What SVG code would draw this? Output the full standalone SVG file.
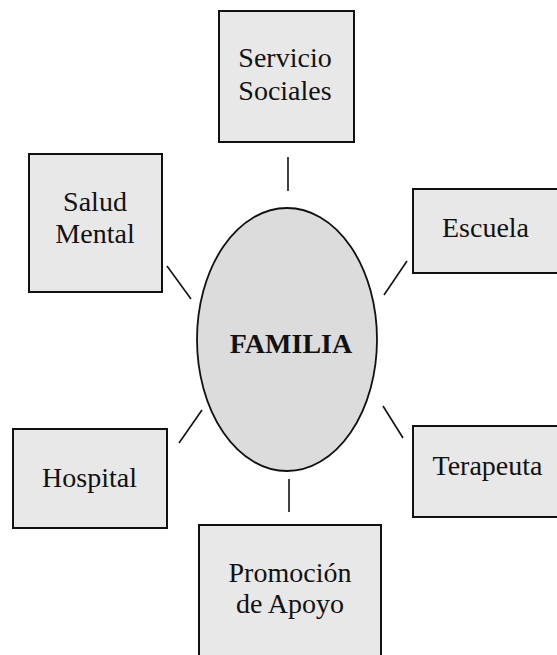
<svg xmlns="http://www.w3.org/2000/svg" width="557" height="655" viewBox="0 0 557 655">
<style>
.box{fill:#e8e8e8;stroke:#111;stroke-width:2}
.t{font-family:"Liberation Serif","Times New Roman",serif;font-size:28px;fill:#111;text-anchor:middle}
.b{font-weight:bold}
.c{stroke:#111;stroke-width:1.6;fill:none}
</style>
<rect width="557" height="655" fill="#fff"/>
<g id="connectors">
<line class="c" x1="288" y1="157" x2="288" y2="191"/>
<line class="c" x1="167" y1="266" x2="191" y2="299"/>
<line class="c" x1="407" y1="261" x2="384" y2="295"/>
<line class="c" x1="202" y1="410" x2="179" y2="443"/>
<line class="c" x1="383" y1="406" x2="403" y2="438"/>
<line class="c" x1="289" y1="479" x2="289" y2="512"/>
</g>
<g id="familia">
<ellipse cx="287" cy="339.5" rx="90" ry="131.5" fill="#dcdcdc" stroke="#111" stroke-width="1.8"/>
<text class="t b" x="291" y="353">FAMILIA</text>
</g>
<g id="servicio">
<rect class="box" x="219" y="11" width="135" height="131"/>
<text class="t" x="285" y="67">Servicio</text>
<text class="t" x="285" y="100">Sociales</text>
</g>
<g id="salud">
<rect class="box" x="29" y="154" width="133" height="138" stroke-width="2.5"/>
<text class="t" x="95" y="211">Salud</text>
<text class="t" x="95" y="243">Mental</text>
</g>
<g id="escuela">
<rect class="box" x="413" y="189" width="147" height="84"/>
<text class="t" x="485.5" y="237">Escuela</text>
</g>
<g id="hospital">
<rect class="box" x="13" y="429" width="154" height="99"/>
<text class="t" x="89.5" y="487">Hospital</text>
</g>
<g id="terapeuta">
<rect class="box" x="413" y="426" width="147" height="91"/>
<text class="t" x="487.5" y="475">Terapeuta</text>
</g>
<g id="promocion">
<rect class="box" x="199" y="525" width="182" height="135"/>
<text class="t" x="290" y="582">Promoción</text>
<text class="t" x="290" y="613">de Apoyo</text>
</g>
</svg>
